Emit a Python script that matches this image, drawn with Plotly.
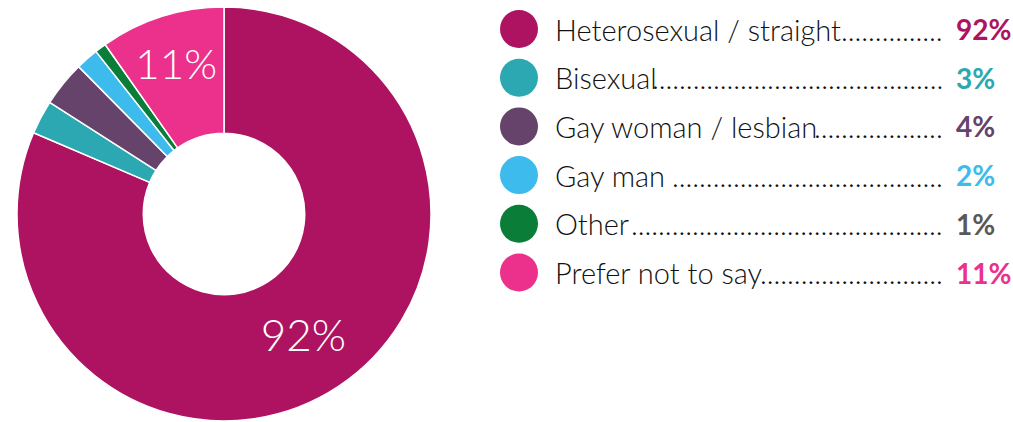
import plotly.graph_objects as go

categories = ["Heterosexual / straight", "Bisexual", "Gay woman / lesbian",
              "Gay man", "Other", "Prefer not to say"]
values = [92, 3, 4, 2, 1, 11]
pct_labels = ["92%", "3%", "4%", "2%", "1%", "11%"]
slice_text = ["92%", "", "", "", "", "11%"]
legend_labels = ["Heterosexual / straight", "Bisexual", "Gay woman / lesbian",
                 "Gay man ", "Other ", "Prefer not to say"]
dot_counts = [15, 43, 19, 40, 46, 27]

colors = ["#AD1360", "#2BA8B1", "#65436A", "#3DBBEC", "#0A7D39", "#EB318B"]
pct_colors = ["#AD1360", "#2BA8B1", "#65436A", "#3DBBEC", "#595959", "#EB318B"]

W, H = 1013, 422
FONT = "Lato"

fig = go.Figure()

fig.add_trace(go.Pie(
    labels=categories, values=values, text=slice_text,
    textinfo="text", textposition="inside", insidetextorientation="horizontal",
    insidetextfont=dict(family=FONT, size=44, color="white", weight=300),
    marker=dict(colors=colors, line=dict(color="white", width=1.5)),
    hole=0.39, sort=False, direction="clockwise", rotation=0,
    domain=dict(x=[17 / W, 431 / W], y=[1 / H, 415 / H]),
    hoverinfo="skip", showlegend=False,
))

rows = list(range(len(categories)))
fig.add_trace(go.Scatter(
    x=[519] * len(rows), y=rows, mode="markers",
    marker=dict(size=38, color=colors, line=dict(width=0)),
    hoverinfo="skip", showlegend=False,
))

annotations = []
for i, (lab, n, pct, pc) in enumerate(zip(legend_labels, dot_counts, pct_labels, pct_colors)):
    annotations.append(dict(x=553, y=i, xref="x", yref="y", text=lab, showarrow=False,
                            xanchor="left", yanchor="middle",
                            font=dict(family=FONT, size=29, color="#111111", weight=300)))
    annotations.append(dict(x=945, y=i, xref="x", yref="y", text="." * n, showarrow=False,
                            xanchor="right", yanchor="middle",
                            font=dict(family=FONT, size=29, color="#111111", weight=300)))
    annotations.append(dict(x=954, y=i, xref="x", yref="y", text="<b>" + pct + "</b>",
                            showarrow=False, xanchor="left", yanchor="middle",
                            font=dict(family=FONT, size=28, color=pc)))

top = -29 / 48.7
bottom = top + H / 48.7
fig.update_layout(
    width=W, height=H, margin=dict(l=0, r=0, t=0, b=0),
    paper_bgcolor="white", plot_bgcolor="rgba(0,0,0,0)",
    xaxis=dict(range=[0, W], visible=False, domain=[0, 1], fixedrange=True),
    yaxis=dict(range=[bottom, top], visible=False, domain=[0, 1], fixedrange=True),
    annotations=annotations, showlegend=False,
)

fig.write_html("out.html")
